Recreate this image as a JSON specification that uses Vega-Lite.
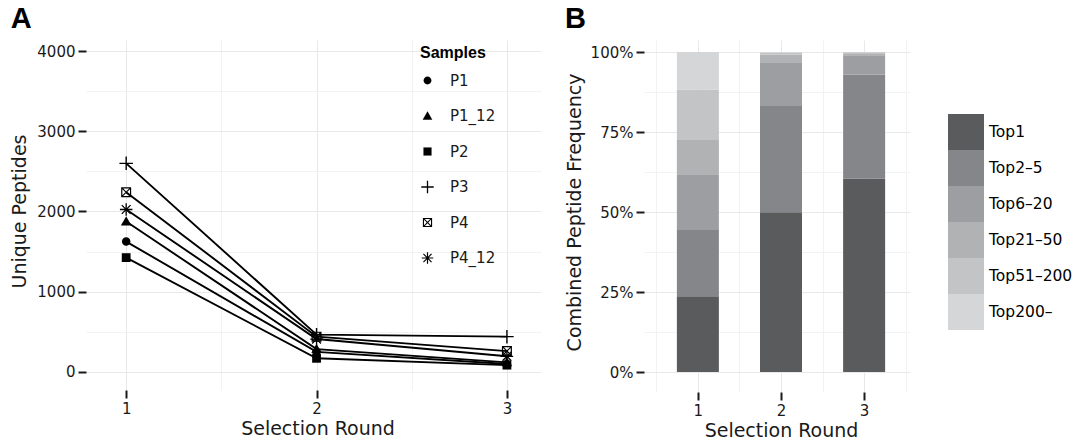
{
  "$schema": "https://vega.github.io/schema/vega-lite/v6.json",
  "padding": {"left": 10, "top": 5, "right": 0, "bottom": 0},
  "background": "white",
  "spacing": 20,
  "config": {
    "view": {"stroke": null},
    "font": "DejaVu Sans",
    "axis": {
      "domain": false,
      "labelFont": "DejaVu Sans",
      "labelFontSize": 15,
      "labelColor": "#1a1a1a",
      "titleFont": "DejaVu Sans",
      "titleFontSize": 19,
      "titleFontWeight": "normal",
      "titleColor": "#1a1a1a",
      "tickWidth": 2,
      "tickSize": 8,
      "offset": 4,
      "labelPadding": 3
    },
    "title": {"font": "Liberation Sans", "fontSize": 29, "fontWeight": "bold", "anchor": "start", "frame": "bounds", "color": "#000", "offset": 2}
  },
  "hconcat": [
    {
      "title": "A",
      "width": 455,
      "height": 350,
      "data": {"values": [
        {"sample": "P1", "round": 1, "peptides": 1625},
        {"sample": "P1", "round": 2, "peptides": 250},
        {"sample": "P1", "round": 3, "peptides": 100},
        {"sample": "P1_12", "round": 1, "peptides": 1875},
        {"sample": "P1_12", "round": 2, "peptides": 285},
        {"sample": "P1_12", "round": 3, "peptides": 120},
        {"sample": "P2", "round": 1, "peptides": 1425},
        {"sample": "P2", "round": 2, "peptides": 170},
        {"sample": "P2", "round": 3, "peptides": 85},
        {"sample": "P3", "round": 1, "peptides": 2600},
        {"sample": "P3", "round": 2, "peptides": 465},
        {"sample": "P3", "round": 3, "peptides": 440},
        {"sample": "P4", "round": 1, "peptides": 2240},
        {"sample": "P4", "round": 2, "peptides": 440},
        {"sample": "P4", "round": 3, "peptides": 260},
        {"sample": "P4_12", "round": 1, "peptides": 2025},
        {"sample": "P4_12", "round": 2, "peptides": 410},
        {"sample": "P4_12", "round": 3, "peptides": 195}
      ]},
      "encoding": {
        "x": {
          "field": "round", "type": "quantitative",
          "scale": {"domain": [0.81, 3.2], "nice": false, "zero": false},
          "axis": {
            "title": "Selection Round",
            "values": [1, 1.5, 2, 2.5, 3],
            "labelExpr": "datum.value % 1 == 0 ? '' + datum.value : ''",
            "tickColor": {"condition": {"test": "datum.value % 1 != 0", "value": "transparent"}, "value": "#1a1a1a"},
            "gridColor": {"condition": {"test": "datum.value % 1 != 0", "value": "#f2f2f2"}, "value": "#e8e8e8"},
            "titlePadding": 3
          }
        },
        "y": {
          "field": "peptides", "type": "quantitative",
          "scale": {"domain": [-175, 4187], "nice": false, "zero": false},
          "axis": {
            "title": "Unique Peptides",
            "values": [0, 500, 1000, 1500, 2000, 2500, 3000, 3500, 4000],
            "labelExpr": "datum.value % 1000 == 0 ? '' + datum.value : ''",
            "tickColor": {"condition": {"test": "datum.value % 1000 != 0", "value": "transparent"}, "value": "#1a1a1a"},
            "gridColor": {"condition": {"test": "datum.value % 1000 != 0", "value": "#f2f2f2"}, "value": "#e8e8e8"},
            "titlePadding": 7
          }
        }
      },
      "layer": [
        {
          "mark": {"type": "line", "color": "black", "strokeWidth": 1.9},
          "encoding": {"detail": {"field": "sample"}}
        },
        {
          "mark": {"type": "point", "filled": true, "color": "black", "opacity": 1, "size": 100, "strokeWidth": 0},
          "encoding": {
            "shape": {
              "field": "sample", "type": "nominal",
              "scale": {
                "domain": ["P1", "P1_12", "P2", "P3", "P4", "P4_12"],
                "range": [
                  "M-0.85,0A0.85,0.85 0 1,0 0.85,0A0.85,0.85 0 1,0 -0.85,0Z",
                  "M0,-1.05L1.05,0.8L-1.05,0.8Z",
                  "M-0.88,-0.88H0.88V0.88H-0.88Z",
                  "M-1.35,-0.14H-0.14V-1.35H0.14V-0.14H1.35V0.14H0.14V1.35H-0.14V0.14H-1.35Z",
                  "M-1,-1H1V1H-1ZM-0.76,-0.76V0.76H0.76V-0.76ZM-0.8,-0.96L0.96,0.8L0.8,0.96L-0.96,-0.8ZM0.96,-0.8L-0.8,0.96L-0.96,0.8L0.8,-0.96Z",
                  "M-1.25,-0.13H-0.13V-1.25H0.13V-0.13H1.25V0.13H0.13V1.25H-0.13V0.13H-1.25ZM-0.79,-0.97L0.97,0.79L0.79,0.97L-0.97,-0.79ZM0.97,-0.79L-0.79,0.97L-0.97,0.79L0.79,-0.97Z"
                ]
              },
              "legend": {
                "title": "Samples",
                "orient": "none", "legendX": 330, "legendY": 9,
                "titleFont": "Liberation Sans", "titleFontSize": 16, "titleFontWeight": "bold", "titleColor": "#000", "titlePadding": 12,
                "labelFont": "DejaVu Sans", "labelFontSize": 15, "labelColor": "#1a1a1a", "labelOffset": 15,
                "symbolSize": 85, "symbolFillColor": "black", "symbolStrokeWidth": 0,
                "rowPadding": 19.5
              }
            }
          }
        }
      ]
    },
    {
      "title": "B",
      "width": 266,
      "height": 352,
      "data": {"values": [
        {"round": 1, "group": "Top1", "rank": 1, "freq": 0.237},
        {"round": 1, "group": "Top2–5", "rank": 2, "freq": 0.207},
        {"round": 1, "group": "Top6–20", "rank": 3, "freq": 0.174},
        {"round": 1, "group": "Top21–50", "rank": 4, "freq": 0.107},
        {"round": 1, "group": "Top51–200", "rank": 5, "freq": 0.158},
        {"round": 1, "group": "Top200–", "rank": 6, "freq": 0.117},
        {"round": 2, "group": "Top1", "rank": 1, "freq": 0.499},
        {"round": 2, "group": "Top2–5", "rank": 2, "freq": 0.332},
        {"round": 2, "group": "Top6–20", "rank": 3, "freq": 0.137},
        {"round": 2, "group": "Top21–50", "rank": 4, "freq": 0.024},
        {"round": 2, "group": "Top51–200", "rank": 5, "freq": 0.005},
        {"round": 2, "group": "Top200–", "rank": 6, "freq": 0.003},
        {"round": 3, "group": "Top1", "rank": 1, "freq": 0.605},
        {"round": 3, "group": "Top2–5", "rank": 2, "freq": 0.325},
        {"round": 3, "group": "Top6–20", "rank": 3, "freq": 0.060},
        {"round": 3, "group": "Top21–50", "rank": 4, "freq": 0.006},
        {"round": 3, "group": "Top51–200", "rank": 5, "freq": 0.003},
        {"round": 3, "group": "Top200–", "rank": 6, "freq": 0.001}
      ]},
      "mark": {"type": "bar", "width": 42},
      "encoding": {
        "x": {
          "field": "round", "type": "quantitative",
          "scale": {"domain": [0.4, 3.6], "nice": false, "zero": false, "padding": 0},
          "axis": {
            "title": "Selection Round",
            "values": [0.5, 1, 1.5, 2, 2.5, 3, 3.5],
            "labelExpr": "datum.value % 1 == 0 ? '' + datum.value : ''",
            "tickColor": {"condition": {"test": "datum.value % 1 != 0", "value": "transparent"}, "value": "#1a1a1a"},
            "gridColor": {"condition": {"test": "datum.value % 1 != 0", "value": "#f2f2f2"}, "value": "#e8e8e8"},
            "titlePadding": 3
          }
        },
        "y": {
          "field": "freq", "type": "quantitative", "stack": "zero",
          "scale": {"domain": [-0.05, 1.05], "nice": false, "zero": false},
          "axis": {
            "title": "Combined Peptide Frequency",
            "values": [0, 0.125, 0.25, 0.375, 0.5, 0.625, 0.75, 0.875, 1],
            "format": ".0%",
            "labelExpr": "(datum.value * 1000) % 250 == 0 ? datum.label : ''",
            "tickColor": {"condition": {"test": "(datum.value * 1000) % 250 != 0", "value": "transparent"}, "value": "#1a1a1a"},
            "gridColor": {"condition": {"test": "(datum.value * 1000) % 250 != 0", "value": "#f2f2f2"}, "value": "#e8e8e8"},
            "titlePadding": 6
          }
        },
        "order": {"field": "rank", "type": "quantitative", "sort": "ascending"},
        "color": {
          "field": "group", "type": "nominal",
          "scale": {
            "domain": ["Top1", "Top2–5", "Top6–20", "Top21–50", "Top51–200", "Top200–"],
            "range": ["#5a5b5d", "#858689", "#9d9ea1", "#b1b2b4", "#c3c4c6", "#d5d6d8"]
          },
          "legend": {
            "title": null,
            "orient": "none", "legendX": 858, "legendY": 78,
            "symbolType": "square", "symbolSize": 1296, "symbolStrokeWidth": 0,
            "symbolOpacity": 1,
            "rowPadding": 0,
            "labelFont": "DejaVu Sans", "labelFontSize": 15.5, "labelColor": "#000", "labelOffset": 5
          }
        }
      }
    }
  ]
}
